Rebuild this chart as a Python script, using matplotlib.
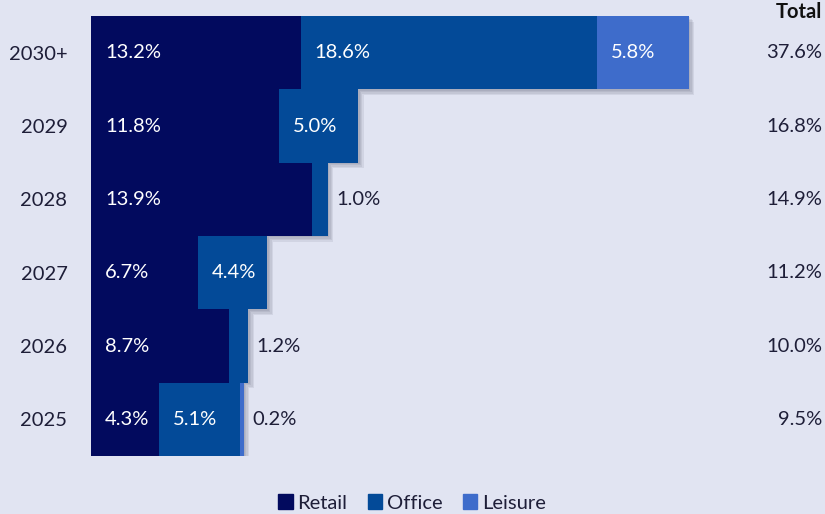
import matplotlib
matplotlib.use("Agg")
import matplotlib.pyplot as plt
import matplotlib.patheffects as pe
from matplotlib.transforms import blended_transform_factory

plt.rcParams['font.family'] = ['Lato', 'DejaVu Sans']

years = ['2025', '2026', '2027', '2028', '2029', '2030+']
retail = [4.3, 8.7, 6.7, 13.9, 11.8, 13.2]
office = [5.1, 1.2, 4.4, 1.0, 5.0, 18.6]
leisure = [0.2, 0.0, 0.0, 0.0, 0.0, 5.8]
totals = ['9.5%', '10.0%', '11.2%', '14.9%', '16.8%', '37.6%']

series = [('Retail', retail, '#020A5E'),
          ('Office', office, '#034A98'),
          ('Leisure', leisure, '#3E6CCB')]

bg = '#E1E4F2'
dark = '#1E1E38'
fs = 14.5

fig = plt.figure(figsize=(8.25, 5.14), dpi=100, facecolor=bg)
ax = fig.add_axes([91 / 825, 58 / 514, 734 / 825, 440 / 514])
ax.set_facecolor(bg)

# soft drop shadow: a few faint offset copies
shadow = [pe.SimplePatchShadow(offset=(d, -d), shadow_rgbFace='#3a3a50', alpha=0.09)
          for d in (1, 2, 3, 4)] + [pe.Normal()]

# draw rows top to bottom so lower rows sit over upper shadows
for i in reversed(range(len(years))):
    left = 0.0
    for name, vals, col in series:
        v = vals[i]
        if v <= 0:
            continue
        ax.barh(i, v, left=left, height=1.0, color=col, linewidth=0,
                path_effects=shadow)
        left += v
    left = 0.0
    stack_end = sum(s[1][i] for s in series)
    for name, vals, col in series:
        v = vals[i]
        if v <= 0:
            continue
        if v >= 1.5:
            ax.annotate(f'{v:.1f}%', (left, i), xytext=(10, 0),
                        textcoords='offset points', ha='left', va='center',
                        color='white', fontsize=fs)
        else:
            ax.annotate(f'{v:.1f}%', (stack_end, i), xytext=(6, 0),
                        textcoords='offset points', ha='left', va='center',
                        color=dark, fontsize=fs)
        left += v

ax.set_xlim(0, 734 / 15.9)
ax.set_ylim(-0.5, 5.5)
ax.set_yticks(range(len(years)))
ax.set_yticklabels(years, fontsize=fs, color=dark)
ax.tick_params(axis='y', length=0, pad=17)
ax.set_xticks([])
for sp in ax.spines.values():
    sp.set_visible(False)

# totals column
tr = blended_transform_factory(fig.transFigure, ax.transData)
for i, t in enumerate(totals):
    ax.text(822 / 825, i, t, transform=tr, ha='right', va='center',
            fontsize=fs, color=dark)
fig.text(822 / 825, 1 - 12 / 514, 'Total', ha='right', va='center',
         fontsize=fs, fontweight='bold', color='#111111')

handles = [plt.Rectangle((0, 0), 1, 1, color=c) for _, _, c in series]
fig.legend(handles, [n for n, _, _ in series], loc='center',
           bbox_to_anchor=(412 / 825, 1 - 503 / 514), ncol=3, frameon=False,
           fontsize=fs, handlelength=0.7, handleheight=0.7, handletextpad=0.25,
           columnspacing=1.0, labelcolor=dark)

fig.savefig('out.png', dpi=100, facecolor=bg)
